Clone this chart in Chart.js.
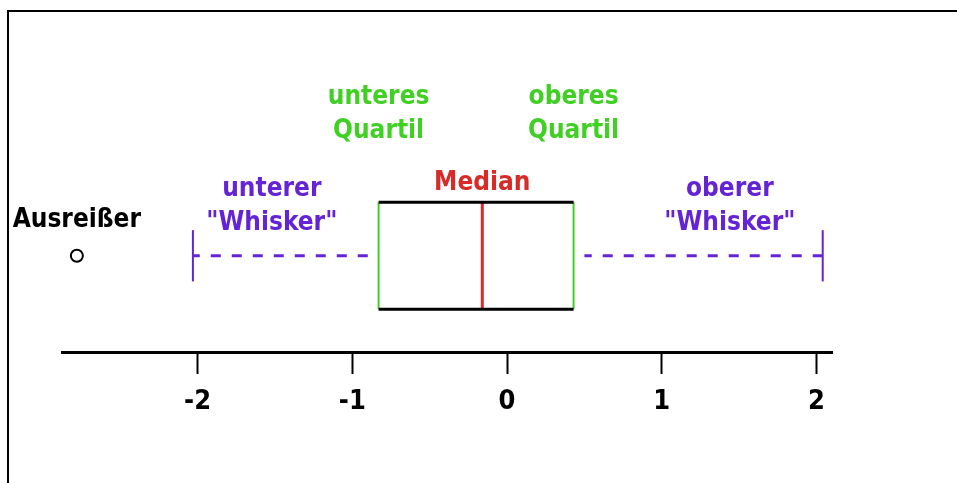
<!DOCTYPE html>
<html>
<head>
<meta charset="utf-8">
<script src="https://cdn.jsdelivr.net/npm/chart.js@4"></script>
<style>
    html, body { margin: 0; padding: 0; background: #fff; overflow: hidden; }
    #wrap { position: relative; width: 957px; height: 483px; }
    #frame {
        position: absolute; left: 7px; top: 10px; right: -10px; bottom: -10px;
        border-left: 2px solid #000; border-top: 2px solid #000;
        pointer-events: none;
    }
</style>
</head>
<body>
<div id="wrap">
    <canvas id="box" width="957" height="483"></canvas>
    <div id="frame"></div>
</div>
<script>

// =========================
// DATA
// =========================

const tickValues = [-2, -1, 0, 1, 2];
const tickLabels = ["-2", "-1", "0", "1", "2"];

// five-number summary + outlier
const whiskerLow = -2.03;
const quartileLow = -0.83;
const median = -0.16;
const quartileHigh = 0.43;
const whiskerHigh = 2.04;
const outliers = [-2.78];

const labelTexts = [
    ["unteres", "Quartil"],
    ["oberes", "Quartil"],
    ["Median"],
    ["unterer", "\"Whisker\""],
    ["oberer", "\"Whisker\""],
    ["Ausreißer"]
];

// =========================
// STYLE
// =========================

const FONT = "'DejaVu Sans Condensed', 'DejaVu Sans', sans-serif";
const GREEN = "#40d024";
const RED = "#d82a26";
const PURPLE = "#6424d6";

// dashed whisker stops a little short of the box
const WHISKER_GAP = 0.07;

// label anchors: x in axis units, y in px from box centre
const labelSpots = [
    { x: quartileLow, y: -159, color: GREEN },
    { x: quartileHigh, y: -159, color: GREEN },
    { x: median, y: -73, color: RED },
    { x: -1.52, y: -67, color: PURPLE },
    { x: 1.44, y: -67, color: PURPLE },
    { x: outliers[0], y: -36, color: "#000" }
];

function seg(x1, y1, x2, y2, color, width, dash) {
    return {
        data: [{ x: x1, y: y1 }, { x: x2, y: y2 }],
        borderColor: color,
        borderWidth: width,
        borderDash: dash || [],
        pointRadius: 0,
        showLine: true,
        fill: false
    };
}

const capH = 0.48;

const datasets = [
    seg(quartileLow - WHISKER_GAP, 0, whiskerLow, 0, PURPLE, 3, [10, 11]),
    seg(whiskerHigh, 0, quartileHigh + WHISKER_GAP, 0, PURPLE, 3, [10, 11]),
    seg(whiskerLow, -capH, whiskerLow, capH, PURPLE, 2),
    seg(whiskerHigh, -capH, whiskerHigh, capH, PURPLE, 2),
    seg(quartileLow, 1, quartileHigh, 1, "#000", 3),
    seg(quartileLow, -1, quartileHigh, -1, "#000", 3),
    seg(quartileLow, -1, quartileLow, 1, GREEN, 2),
    seg(quartileHigh, -1, quartileHigh, 1, GREEN, 2),
    seg(median, -1, median, 1, RED, 3),
    {
        data: outliers.map(v => ({ x: v, y: 0 })),
        showLine: false,
        pointStyle: "circle",
        pointRadius: 6,
        pointBorderWidth: 2,
        pointBorderColor: "#000",
        pointBackgroundColor: "#fff"
    }
];

// =========================
// LABELS PLUGIN
// =========================

const labelPlugin = {
    id: "labels",
    afterDatasetsDraw(chart) {
        const ctx = chart.ctx;
        const xs = chart.scales.x;
        const cy = chart.scales.y.getPixelForValue(0);

        ctx.save();
        ctx.font = "bold 26px " + FONT;
        ctx.textAlign = "center";
        ctx.textBaseline = "middle";

        labelTexts.forEach((lines, i) => {
            const spot = labelSpots[i];
            ctx.fillStyle = spot.color;
            lines.forEach((line, j) => {
                ctx.fillText(line,
                    xs.getPixelForValue(spot.x),
                    cy + spot.y + j * 34);
            });
        });

        ctx.restore();
    }
};

// =========================
// CHART
// =========================

new Chart(document.getElementById("box").getContext("2d"), {
    type: "scatter",
    data: { datasets },
    plugins: [labelPlugin],
    options: {
        responsive: false,
        animation: false,
        layout: {
            padding: { left: 62, right: 125, top: 42, bottom: 0 }
        },
        plugins: {
            legend: { display: false },
            tooltip: { enabled: false }
        },
        scales: {
            x: {
                type: "linear",
                min: -2.876,
                max: 2.10,
                afterFit: s => { s.height = 131; },
                afterBuildTicks: s => {
                    s.ticks = tickValues.map(v => ({ value: v }));
                },
                border: { display: true, color: "#000", width: 3 },
                grid: {
                    drawOnChartArea: false,
                    drawTicks: true,
                    tickLength: 22,
                    tickWidth: 2,
                    tickColor: "#000"
                },
                ticks: {
                    color: "#000",
                    padding: 12,
                    font: { family: FONT, size: 27, weight: "bold" },
                    callback: (v) => tickLabels[tickValues.indexOf(v)]
                }
            },
            y: {
                display: false,
                min: -1.8,
                max: 4
            }
        }
    }
});

</script>
</body>
</html>
